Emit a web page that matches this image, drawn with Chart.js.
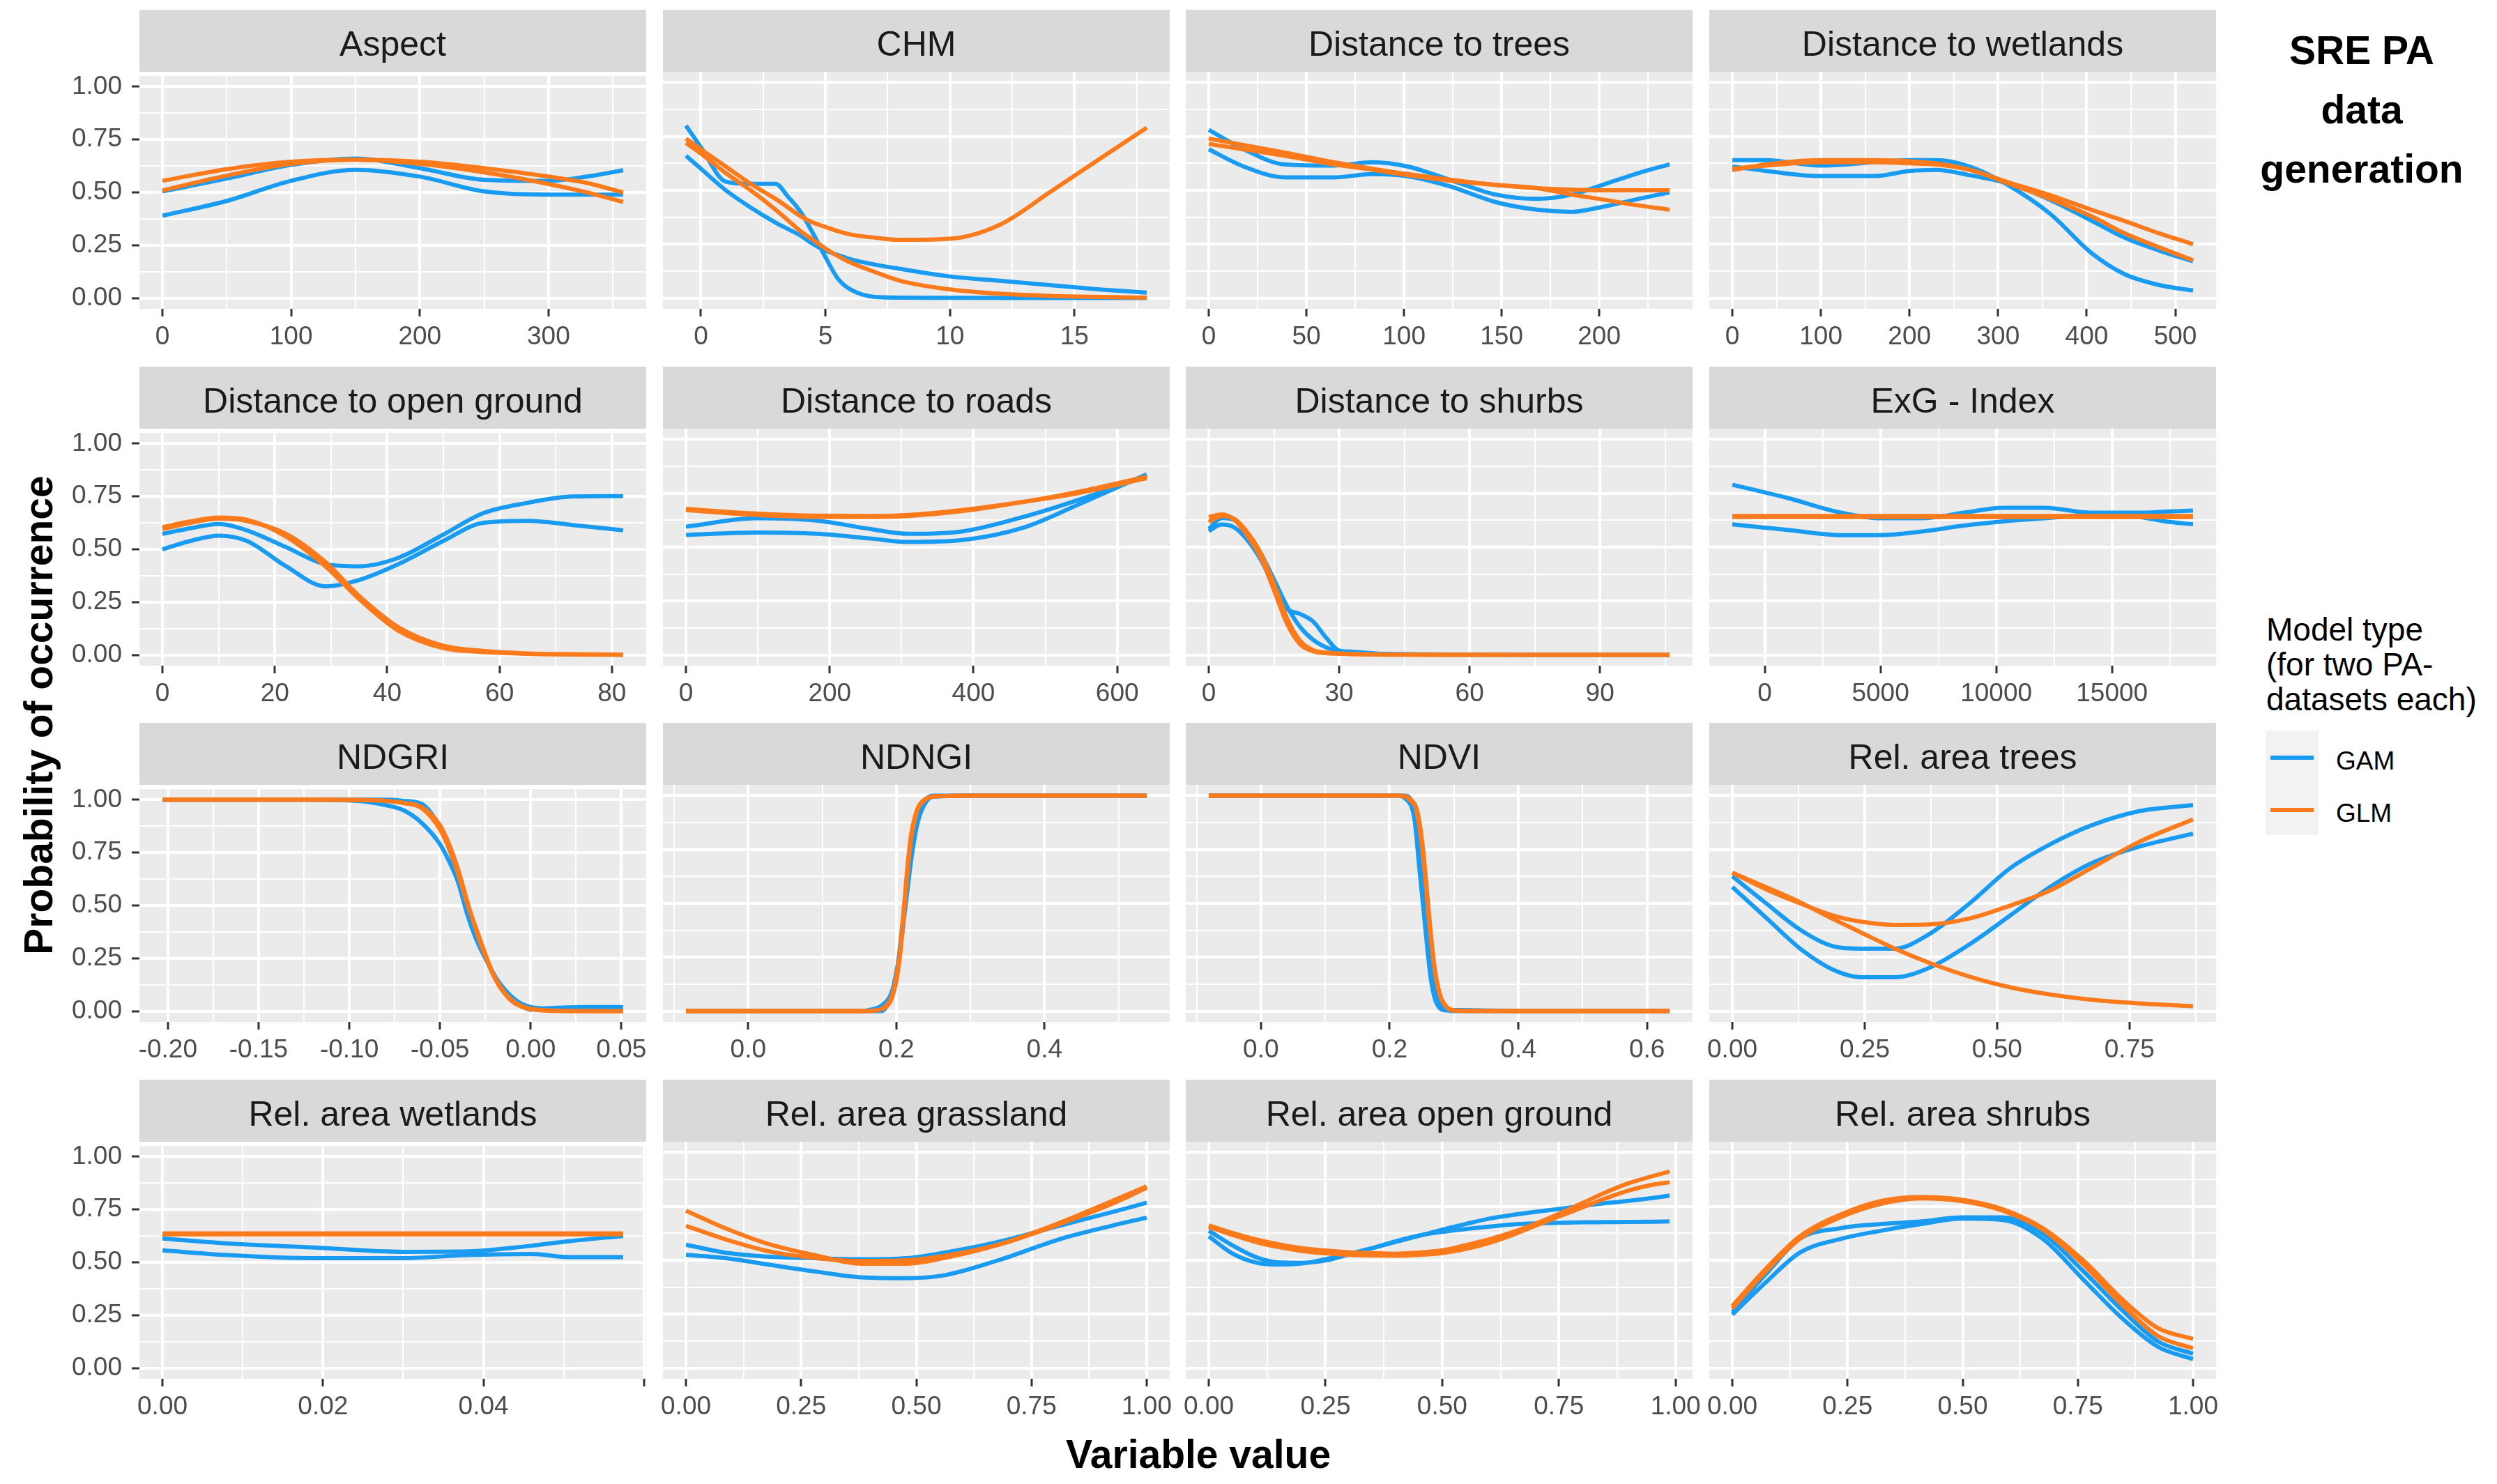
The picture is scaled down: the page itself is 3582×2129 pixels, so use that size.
<!DOCTYPE html>
<html>
<head>
<meta charset="utf-8">
<script src="https://cdn.jsdelivr.net/npm/chart.js@4.4.1/dist/chart.umd.min.js"></script>
<style>
  body { margin: 0; background: #fff; width: 3582px; height: 2129px; position: relative; overflow: hidden;
         font-family: 'Liberation Sans', Arial, sans-serif; }
  canvas { position: absolute; }
  .strip { position: absolute; background: #d9d9d9; color: #1a1a1a; font-size: 50px;
           display: flex; align-items: center; justify-content: center; box-sizing: border-box; padding-top: 8px; white-space: nowrap; }
  .axtitle { position: absolute; font-weight: bold; font-size: 57px; color: #000; white-space: nowrap; transform: translate(-50%, -50%); }
  #ytitle { transform: translate(-50%, -50%) rotate(-90deg); }
  #maintitle { position: absolute; left: 3388px; top: 30px; transform: translateX(-50%); text-align: center;
               font-weight: bold; font-size: 57px; line-height: 85px; color: #000; white-space: nowrap; }
  #legtitle { position: absolute; left: 3251px; top: 878px; font-size: 46px; line-height: 50px; color: #000; white-space: nowrap; }
  #legbox { position: absolute; left: 3250px; top: 1048px; width: 76px; height: 150px; background: #f2f2f2; }
  .legline { position: absolute; left: 3257px; width: 62px; height: 6px; }
  .leglab { position: absolute; left: 3351px; font-size: 37px; line-height: 40px; color: #000; }
</style>
</head>
<body>
<div id="maintitle">SRE PA<br>data<br>generation</div>
<div id="legtitle">Model type<br>(for two PA-<br>datasets each)</div>
<div id="legbox"></div>
<div class="legline" style="top:1084px;background:#1a9bf2"></div>
<div class="legline" style="top:1159px;background:#fa7a1c"></div>
<div class="leglab" style="top:1072px">GAM</div>
<div class="leglab" style="top:1147px">GLM</div>
<div class="axtitle" id="ytitle" style="left:55px;top:1026px">Probability of occurrence</div>
<div class="axtitle" style="left:1719px;top:2086px">Variable value</div>
<script>
// ---- data ----
const yTicks = [0, 0.25, 0.5, 0.75, 1];
const yLabels = ['0.00', '0.25', '0.50', '0.75', '1.00'];

const aspectX = [0, 50, 100, 150, 200, 250, 300, 330, 358];
const aspectGam1 = [0.39, 0.46, 0.555, 0.607, 0.575, 0.505, 0.49, 0.49, 0.49];
const aspectGam2 = [0.505, 0.566, 0.63, 0.66, 0.615, 0.56, 0.555, 0.575, 0.605];
const aspectGlm1 = [0.555, 0.61, 0.645, 0.655, 0.645, 0.615, 0.575, 0.545, 0.50];
const aspectGlm2 = [0.51, 0.58, 0.635, 0.655, 0.635, 0.595, 0.54, 0.50, 0.455];
const aspectTicks = [0, 100, 200, 300];
const aspectLabels = ['0', '100', '200', '300'];

const chmX = [-0.6, 0, 1, 2, 3, 3.5, 4, 4.5, 5, 5.5, 6, 7, 8, 10, 12, 14, 16, 17.9];
const chmGam1 = [0.80, 0.70, 0.54, 0.53, 0.53, 0.47, 0.40, 0.30, 0.19, 0.09, 0.04, 0.005, 0.002, 0.001, 0, 0, 0, 0];
const chmGam2 = [0.66, 0.60, 0.50, 0.42, 0.35, 0.32, 0.29, 0.25, 0.22, 0.20, 0.18, 0.155, 0.135, 0.10, 0.08, 0.06, 0.04, 0.025];
const chmGlm1 = [0.74, 0.69, 0.61, 0.53, 0.46, 0.42, 0.38, 0.35, 0.33, 0.31, 0.295, 0.28, 0.27, 0.275, 0.34, 0.49, 0.645, 0.79];
const chmGlm2 = [0.72, 0.67, 0.58, 0.50, 0.41, 0.36, 0.31, 0.27, 0.23, 0.195, 0.165, 0.12, 0.08, 0.04, 0.02, 0.01, 0.005, 0.002];
const chmTicks = [0, 5, 10, 15];
const chmLabels = ['0', '5', '10', '15'];

const treesX = [0, 18, 39, 64, 84, 102, 123, 147, 168, 186, 200, 220, 236];
const treesGam1 = [0.78, 0.69, 0.62, 0.615, 0.63, 0.61, 0.55, 0.48, 0.46, 0.48, 0.52, 0.58, 0.62];
const treesGam2 = [0.69, 0.61, 0.56, 0.56, 0.575, 0.565, 0.52, 0.445, 0.41, 0.40, 0.42, 0.46, 0.49];
const treesGlm1 = [0.74, 0.71, 0.675, 0.63, 0.60, 0.575, 0.55, 0.525, 0.51, 0.503, 0.50, 0.50, 0.50];
const treesGlm2 = [0.715, 0.69, 0.66, 0.62, 0.595, 0.57, 0.545, 0.525, 0.51, 0.48, 0.46, 0.43, 0.41];
const treesTicks = [0, 50, 100, 150, 200];
const treesLabels = ['0', '50', '100', '150', '200'];

const wetX = [0, 38, 99, 160, 200, 230, 268, 313, 359, 405, 443, 482, 520];
const wetGam1 = [0.64, 0.64, 0.615, 0.63, 0.64, 0.64, 0.61, 0.52, 0.39, 0.21, 0.11, 0.06, 0.035];
const wetGam2 = [0.61, 0.59, 0.566, 0.566, 0.59, 0.595, 0.57, 0.53, 0.455, 0.36, 0.28, 0.22, 0.17];
const wetGlm1 = [0.60, 0.615, 0.63, 0.63, 0.625, 0.62, 0.595, 0.535, 0.477, 0.41, 0.357, 0.30, 0.25];
const wetGlm2 = [0.594, 0.62, 0.64, 0.64, 0.635, 0.625, 0.595, 0.53, 0.46, 0.38, 0.30, 0.235, 0.175];
const wetTicks = [0, 100, 200, 300, 400, 500];
const wetLabels = ['0', '100', '200', '300', '400', '500'];

const openX = [0, 5, 10, 15, 22, 29, 35, 42, 50, 57, 65, 73, 82];
const openGam1 = [0.573, 0.60, 0.62, 0.59, 0.51, 0.43, 0.42, 0.46, 0.57, 0.67, 0.72, 0.75, 0.752];
const openGam2 = [0.50, 0.54, 0.565, 0.54, 0.42, 0.325, 0.355, 0.43, 0.54, 0.625, 0.635, 0.615, 0.59];
const openGlm1 = [0.595, 0.625, 0.645, 0.634, 0.573, 0.44, 0.28, 0.132, 0.044, 0.02, 0.008, 0.004, 0.002];
const openGlm2 = [0.605, 0.632, 0.65, 0.64, 0.56, 0.42, 0.265, 0.115, 0.033, 0.015, 0.006, 0.003, 0.001];
const openTicks = [0, 20, 40, 60, 80];
const openLabels = ['0', '20', '40', '60', '80'];

const roadsX = [0, 98, 183, 257, 310, 384, 469, 544, 641];
const roadsGam1 = [0.595, 0.634, 0.623, 0.584, 0.562, 0.573, 0.64, 0.717, 0.832];
const roadsGam2 = [0.557, 0.568, 0.562, 0.54, 0.524, 0.533, 0.59, 0.695, 0.838];
const roadsGlm1 = [0.678, 0.656, 0.646, 0.645, 0.65, 0.672, 0.71, 0.75, 0.82];
const roadsGlm2 = [0.672, 0.65, 0.641, 0.641, 0.645, 0.667, 0.71, 0.756, 0.827];
const roadsTicks = [0, 200, 400, 600];
const roadsLabels = ['0', '200', '400', '600'];

const shrubDX = [0, 3, 6, 9, 12, 15, 18, 21, 24, 27, 30, 33, 40, 60, 80, 106];
const shrubDGam1 = [0.575, 0.605, 0.59, 0.53, 0.44, 0.32, 0.215, 0.19, 0.155, 0.08, 0.02, 0.015, 0.005, 0.002, 0.001, 0];
const shrubDGam2 = [0.585, 0.635, 0.625, 0.56, 0.47, 0.35, 0.225, 0.13, 0.07, 0.035, 0.017, 0.01, 0.004, 0.001, 0, 0];
const shrubDGlm1 = [0.617, 0.645, 0.63, 0.565, 0.47, 0.33, 0.17, 0.065, 0.022, 0.011, 0.007, 0.004, 0.002, 0, 0, 0];
const shrubDGlm2 = [0.64, 0.652, 0.625, 0.55, 0.45, 0.30, 0.145, 0.05, 0.017, 0.008, 0.005, 0.003, 0.001, 0, 0, 0];
const shrubDTicks = [0, 30, 60, 90];
const shrubDLabels = ['0', '30', '60', '90'];

const exgX = [-1400, 1000, 3300, 5000, 6800, 8600, 10300, 12100, 14100, 16200, 17300, 18500];
const exgGam1 = [0.79, 0.728, 0.66, 0.634, 0.634, 0.66, 0.683, 0.683, 0.66, 0.66, 0.665, 0.67];
const exgGam2 = [0.606, 0.58, 0.556, 0.556, 0.573, 0.60, 0.62, 0.634, 0.65, 0.64, 0.62, 0.606];
const exgGlm1 = [0.645, 0.645, 0.645, 0.645, 0.645, 0.645, 0.645, 0.645, 0.645, 0.645, 0.645, 0.645];
const exgGlm2 = [0.64, 0.64, 0.64, 0.64, 0.64, 0.64, 0.64, 0.64, 0.64, 0.64, 0.64, 0.64];
const exgTicks = [0, 5000, 10000, 15000];
const exgLabels = ['0', '5000', '10000', '15000'];

const ndgriX = [-0.203, -0.12, -0.09, -0.08, -0.07, -0.06, -0.05, -0.045, -0.04, -0.035, -0.03, -0.025, -0.02, -0.015, -0.01, -0.005, 0, 0.01, 0.03, 0.051];
const ndgriGam1 = [1, 1, 0.99, 0.975, 0.95, 0.89, 0.79, 0.71, 0.61, 0.46, 0.34, 0.25, 0.17, 0.10, 0.05, 0.025, 0.008, 0.015, 0.02, 0.02];
const ndgriGam2 = [1, 1, 1, 1, 0.995, 0.98, 0.87, 0.77, 0.64, 0.50, 0.37, 0.26, 0.17, 0.11, 0.065, 0.035, 0.02, 0.012, 0.004, 0.002];
const ndgriGlm1 = [1, 1, 0.998, 0.995, 0.985, 0.96, 0.86, 0.77, 0.65, 0.51, 0.39, 0.27, 0.165, 0.095, 0.05, 0.025, 0.012, 0.004, 0.001, 0];
const ndgriGlm2 = [1, 1, 0.998, 0.995, 0.985, 0.965, 0.88, 0.79, 0.67, 0.52, 0.38, 0.26, 0.16, 0.09, 0.045, 0.022, 0.01, 0.003, 0.001, 0];
const ndgriTicks = [-0.2, -0.15, -0.1, -0.05, 0, 0.05];
const ndgriLabels = ['-0.20', '-0.15', '-0.10', '-0.05', '0.00', '0.05'];

const ndngiX = [-0.084, 0.15, 0.17, 0.18, 0.19, 0.195, 0.2, 0.205, 0.21, 0.215, 0.22, 0.225, 0.23, 0.24, 0.25, 0.3, 0.538];
const ndngiGam1 = [0, 0, 0.01, 0.025, 0.06, 0.10, 0.18, 0.28, 0.42, 0.56, 0.70, 0.81, 0.89, 0.97, 0.995, 1, 1];
const ndngiGam2 = [0, 0, 0, 0, 0.04, 0.08, 0.16, 0.30, 0.46, 0.63, 0.78, 0.87, 0.94, 0.985, 1, 1, 1];
const ndngiGlm1 = [0, 0, 0.003, 0.01, 0.04, 0.08, 0.16, 0.28, 0.47, 0.67, 0.82, 0.90, 0.95, 0.985, 0.997, 1, 1];
const ndngiGlm2 = [0, 0, 0.002, 0.008, 0.033, 0.07, 0.14, 0.26, 0.44, 0.64, 0.80, 0.89, 0.945, 0.983, 0.996, 1, 1];
const ndngiTicks = [0, 0.2, 0.4];
const ndngiLabels = ['0.0', '0.2', '0.4'];

const ndviX = [-0.081, 0.2, 0.215, 0.225, 0.235, 0.24, 0.245, 0.25, 0.255, 0.26, 0.265, 0.27, 0.275, 0.28, 0.29, 0.3, 0.314, 0.4, 0.635];
const ndviGam1 = [1, 1, 1, 0.985, 0.94, 0.86, 0.70, 0.55, 0.40, 0.25, 0.13, 0.06, 0.025, 0.008, 0.003, 0.005, 0.005, 0, 0];
const ndviGam2 = [1, 1, 1, 1, 0.97, 0.91, 0.82, 0.69, 0.53, 0.36, 0.22, 0.12, 0.06, 0.03, 0.005, 0, 0, 0, 0];
const ndviGlm1 = [1, 1, 1, 0.995, 0.97, 0.95, 0.88, 0.77, 0.63, 0.46, 0.31, 0.19, 0.11, 0.06, 0.015, 0.004, 0.001, 0, 0];
const ndviGlm2 = [1, 1, 1, 0.997, 0.975, 0.955, 0.90, 0.80, 0.66, 0.49, 0.33, 0.20, 0.115, 0.06, 0.014, 0.003, 0.001, 0, 0];
const ndviTicks = [0, 0.2, 0.4, 0.6];
const ndviLabels = ['0.0', '0.2', '0.4', '0.6'];

const relTreesX = [0, 0.064, 0.128, 0.192, 0.243, 0.307, 0.371, 0.448, 0.525, 0.60, 0.678, 0.768, 0.87];
const relTreesGam1 = [0.626, 0.50, 0.378, 0.30, 0.29, 0.29, 0.356, 0.50, 0.664, 0.774, 0.862, 0.928, 0.956];
const relTreesGam2 = [0.576, 0.433, 0.29, 0.19, 0.157, 0.157, 0.20, 0.31, 0.444, 0.576, 0.686, 0.763, 0.824];
const relTreesGlm1 = [0.642, 0.565, 0.50, 0.442, 0.415, 0.40, 0.402, 0.43, 0.49, 0.56, 0.664, 0.785, 0.89];
const relTreesGlm2 = [0.642, 0.575, 0.505, 0.425, 0.365, 0.29, 0.225, 0.16, 0.11, 0.077, 0.053, 0.036, 0.023];
const relTreesTicks = [0, 0.25, 0.5, 0.75];
const relTreesLabels = ['0.00', '0.25', '0.50', '0.75'];

const relWetX = [0, 0.008, 0.019, 0.030, 0.038, 0.046, 0.0506, 0.0574];
const relWetGam1 = [0.613, 0.59, 0.57, 0.55, 0.552, 0.579, 0.60, 0.625];
const relWetGam2 = [0.557, 0.535, 0.52, 0.52, 0.535, 0.54, 0.525, 0.525];
const relWetGlm1 = [0.633, 0.633, 0.633, 0.633, 0.633, 0.633, 0.633, 0.633];
const relWetGlm2 = [0.637, 0.637, 0.637, 0.637, 0.637, 0.637, 0.637, 0.637];
const relWetTicks = [0, 0.02, 0.04, 0.06];
const relWetLabels = ['0.00', '0.02', '0.04', ''];

const relGrassX = [0, 0.086, 0.184, 0.283, 0.38, 0.48, 0.56, 0.678, 0.81, 0.924, 1.0];
const relGrassGam1 = [0.572, 0.535, 0.516, 0.509, 0.505, 0.51, 0.535, 0.585, 0.66, 0.723, 0.767];
const relGrassGam2 = [0.525, 0.51, 0.478, 0.447, 0.421, 0.417, 0.43, 0.50, 0.597, 0.66, 0.698];
const relGrassGlm1 = [0.73, 0.648, 0.572, 0.522, 0.484, 0.484, 0.51, 0.572, 0.673, 0.774, 0.843];
const relGrassGlm2 = [0.66, 0.597, 0.54, 0.51, 0.497, 0.50, 0.52, 0.572, 0.667, 0.761, 0.836];

const relOpenX = [0, 0.05, 0.1, 0.15, 0.2, 0.25, 0.3, 0.35, 0.4, 0.45, 0.5, 0.55, 0.6, 0.65, 0.7, 0.75, 0.8, 0.85, 0.9, 0.95, 0.987];
const relOpenGam1 = [0.611, 0.532, 0.49, 0.48, 0.485, 0.505, 0.53, 0.556, 0.588, 0.615, 0.632, 0.645, 0.656, 0.666, 0.671, 0.674, 0.676, 0.677, 0.678, 0.679, 0.68];
const relOpenGam2 = [0.637, 0.57, 0.515, 0.49, 0.488, 0.499, 0.527, 0.556, 0.585, 0.613, 0.642, 0.668, 0.693, 0.71, 0.725, 0.738, 0.752, 0.765, 0.776, 0.789, 0.80];
const relOpenGlm1 = [0.662, 0.627, 0.597, 0.574, 0.556, 0.545, 0.537, 0.533, 0.53, 0.536, 0.546, 0.57, 0.597, 0.63, 0.67, 0.715, 0.765, 0.815, 0.858, 0.89, 0.912];
const relOpenGlm2 = [0.655, 0.618, 0.585, 0.561, 0.543, 0.532, 0.525, 0.522, 0.521, 0.525, 0.533, 0.552, 0.58, 0.617, 0.66, 0.703, 0.745, 0.787, 0.824, 0.85, 0.862];

const relShrubX = [0, 0.073, 0.147, 0.235, 0.323, 0.41, 0.499, 0.587, 0.674, 0.762, 0.85, 0.924, 1.0];
const relShrubGam1 = [0.26, 0.436, 0.60, 0.649, 0.668, 0.68, 0.699, 0.699, 0.624, 0.449, 0.26, 0.123, 0.066];
const relShrubGam2 = [0.248, 0.398, 0.536, 0.599, 0.637, 0.668, 0.693, 0.687, 0.599, 0.41, 0.223, 0.098, 0.041];
const relShrubGlm1 = [0.288, 0.461, 0.612, 0.712, 0.775, 0.794, 0.781, 0.737, 0.649, 0.499, 0.311, 0.185, 0.135];
const relShrubGlm2 = [0.276, 0.449, 0.60, 0.70, 0.762, 0.787, 0.774, 0.73, 0.642, 0.48, 0.286, 0.148, 0.091];

const unitTicks = [0, 0.25, 0.5, 0.75, 1];
const unitLabels = ['0.00', '0.25', '0.50', '0.75', '1.00'];

// ---- panels in facet order ----
const panels = [
  { title: 'Aspect', x: aspectX, gam: [aspectGam1, aspectGam2], glm: [aspectGlm1, aspectGlm2], ticks: aspectTicks, labels: aspectLabels },
  { title: 'CHM', x: chmX, gam: [chmGam1, chmGam2], glm: [chmGlm1, chmGlm2], ticks: chmTicks, labels: chmLabels },
  { title: 'Distance to trees', x: treesX, gam: [treesGam1, treesGam2], glm: [treesGlm1, treesGlm2], ticks: treesTicks, labels: treesLabels },
  { title: 'Distance to wetlands', x: wetX, gam: [wetGam1, wetGam2], glm: [wetGlm1, wetGlm2], ticks: wetTicks, labels: wetLabels },
  { title: 'Distance to open ground', x: openX, gam: [openGam1, openGam2], glm: [openGlm1, openGlm2], ticks: openTicks, labels: openLabels },
  { title: 'Distance to roads', x: roadsX, gam: [roadsGam1, roadsGam2], glm: [roadsGlm1, roadsGlm2], ticks: roadsTicks, labels: roadsLabels },
  { title: 'Distance to shurbs', x: shrubDX, gam: [shrubDGam1, shrubDGam2], glm: [shrubDGlm1, shrubDGlm2], ticks: shrubDTicks, labels: shrubDLabels },
  { title: 'ExG - Index', x: exgX, gam: [exgGam1, exgGam2], glm: [exgGlm1, exgGlm2], ticks: exgTicks, labels: exgLabels },
  { title: 'NDGRI', x: ndgriX, gam: [ndgriGam1, ndgriGam2], glm: [ndgriGlm1, ndgriGlm2], ticks: ndgriTicks, labels: ndgriLabels },
  { title: 'NDNGI', x: ndngiX, gam: [ndngiGam1, ndngiGam2], glm: [ndngiGlm1, ndngiGlm2], ticks: ndngiTicks, labels: ndngiLabels },
  { title: 'NDVI', x: ndviX, gam: [ndviGam1, ndviGam2], glm: [ndviGlm1, ndviGlm2], ticks: ndviTicks, labels: ndviLabels },
  { title: 'Rel. area trees', x: relTreesX, gam: [relTreesGam1, relTreesGam2], glm: [relTreesGlm1, relTreesGlm2], ticks: relTreesTicks, labels: relTreesLabels },
  { title: 'Rel. area wetlands', x: relWetX, gam: [relWetGam1, relWetGam2], glm: [relWetGlm1, relWetGlm2], ticks: relWetTicks, labels: relWetLabels },
  { title: 'Rel. area grassland', x: relGrassX, gam: [relGrassGam1, relGrassGam2], glm: [relGrassGlm1, relGrassGlm2], ticks: unitTicks, labels: unitLabels },
  { title: 'Rel. area open ground', x: relOpenX, gam: [relOpenGam1, relOpenGam2], glm: [relOpenGlm1, relOpenGlm2], ticks: unitTicks, labels: unitLabels },
  { title: 'Rel. area shrubs', x: relShrubX, gam: [relShrubGam1, relShrubGam2], glm: [relShrubGlm1, relShrubGlm2], ticks: unitTicks, labels: unitLabels }
];

const GAM_COLOR = '#1a9bf2';
const GLM_COLOR = '#fa7a1c';
const FONT = "'Liberation Sans', Arial, sans-serif";

// layout (px)
const PANEL_W = 727, STRIP_H = 89, PLOT_H = 340;
const COL0 = 200, COL_STEP = 750.5, ROW0 = 14, ROW_STEP = 511.7;
const PAD_TOP = 30, PAD_SIDE = 60, XAXIS_H = 80;

const panelBg = {
  id: 'panelBg',
  beforeDraw(chart) {
    const { ctx, chartArea: a } = chart;
    ctx.save();
    ctx.fillStyle = '#ebebeb';
    ctx.fillRect(a.left, a.top, a.right - a.left, a.bottom - a.top);
    ctx.restore();
  }
};

// majors plus ggplot-style minor breaks half way between them
function allBreaks(majors, min, max) {
  const step = majors[1] - majors[0];
  const out = [];
  for (let v = majors[0] - step / 2; v <= max + 1e-12; v += step / 2) {
    if (v >= min - 1e-12) out.push(+v.toFixed(10));
  }
  return out;
}
const isIn = (arr, v) => arr.some(t => Math.abs(t - v) < 1e-9);

function line(xs, ys, color) {
  return {
    data: xs.map((x, i) => ({ x: x, y: ys[i] })),
    borderColor: color, borderWidth: 6, pointRadius: 0,
    cubicInterpolationMode: 'monotone', fill: false
  };
}

panels.forEach((p, i) => {
  const col = i % 4, row = Math.floor(i / 4);
  const left = Math.round(COL0 + col * COL_STEP);
  const top = Math.round(ROW0 + row * ROW_STEP);

  const strip = document.createElement('div');
  strip.className = 'strip';
  strip.style.left = left + 'px';
  strip.style.top = top + 'px';
  strip.style.width = PANEL_W + 'px';
  strip.style.height = STRIP_H + 'px';
  strip.textContent = p.title;
  document.body.appendChild(strip);

  const leftPad = col === 0 ? COL0 : PAD_SIDE;
  const cv = document.createElement('canvas');
  const w = leftPad + PANEL_W + PAD_SIDE, h = PAD_TOP + PLOT_H + XAXIS_H;
  cv.width = w; cv.height = h;
  cv.style.width = w + 'px'; cv.style.height = h + 'px';
  cv.style.left = (left - leftPad) + 'px';
  cv.style.top = (top + STRIP_H - PAD_TOP) + 'px';
  document.body.appendChild(cv);

  const xmin0 = Math.min(...p.x), xmax0 = Math.max(...p.x);
  const ex = (xmax0 - xmin0) * 0.05;
  const xmin = xmin0 - ex, xmax = xmax0 + ex;
  const xBreaks = allBreaks(p.ticks, xmin, xmax);
  const yBreaks = allBreaks(yTicks, -0.05, 1.05);

  new Chart(cv, {
    type: 'line',
    data: {
      datasets: [
        line(p.x, p.glm[0], GLM_COLOR),
        line(p.x, p.glm[1], GLM_COLOR),
        line(p.x, p.gam[0], GAM_COLOR),
        line(p.x, p.gam[1], GAM_COLOR)
      ]
    },
    options: {
      responsive: false,
      animation: false,
      devicePixelRatio: 1,
      layout: { padding: { top: PAD_TOP, right: PAD_SIDE, left: 0, bottom: 0 } },
      plugins: { legend: { display: false }, tooltip: { enabled: false } },
      scales: {
        x: {
          type: 'linear', min: xmin, max: xmax,
          afterBuildTicks: s => { s.ticks = xBreaks.map(v => ({ value: v })); },
          afterFit: s => { s.height = XAXIS_H; },
          border: { display: false },
          grid: {
            color: '#ffffff',
            lineWidth: c => isIn(p.ticks, c.tick.value) ? 4 : 2,
            drawTicks: true, tickLength: 11, tickWidth: 3,
            tickColor: c => isIn(p.ticks, c.tick.value) ? '#333333' : 'rgba(0,0,0,0)'
          },
          ticks: {
            autoSkip: false, maxRotation: 0, minRotation: 0, padding: 8,
            color: '#4d4d4d', font: { family: FONT, size: 37 },
            callback: v => {
              const k = p.ticks.findIndex(t => Math.abs(t - v) < 1e-9);
              return k >= 0 ? p.labels[k] : '';
            }
          }
        },
        y: {
          type: 'linear', min: -0.05, max: 1.05,
          afterBuildTicks: s => { s.ticks = yBreaks.map(v => ({ value: v })); },
          afterFit: s => { s.width = leftPad; },
          border: { display: false },
          grid: {
            color: '#ffffff',
            lineWidth: c => isIn(yTicks, c.tick.value) ? 4 : 2,
            drawTicks: col === 0, tickLength: 11, tickWidth: 3,
            tickColor: c => isIn(yTicks, c.tick.value) ? '#333333' : 'rgba(0,0,0,0)'
          },
          ticks: {
            display: col === 0, autoSkip: false, padding: 14,
            color: '#4d4d4d', font: { family: FONT, size: 37 },
            callback: v => {
              const k = yTicks.findIndex(t => Math.abs(t - v) < 1e-9);
              return k >= 0 ? yLabels[k] : '';
            }
          }
        }
      }
    },
    plugins: [panelBg]
  });
});
</script>
</body>
</html>
